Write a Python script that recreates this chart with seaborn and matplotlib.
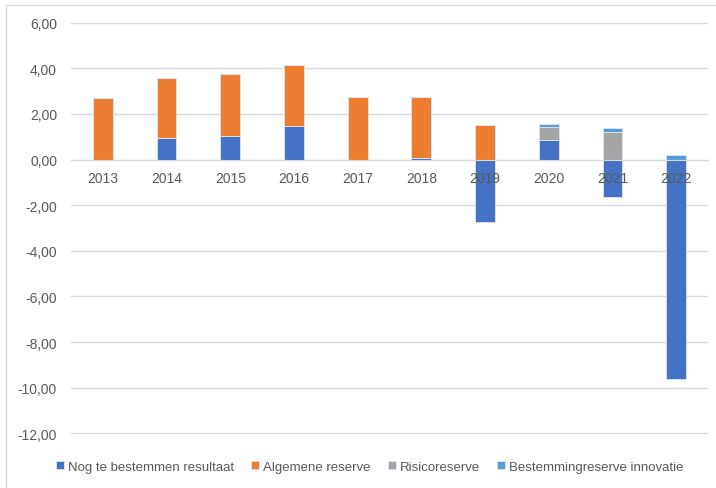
import numpy as np
import pandas as pd
import seaborn as sns
import matplotlib.pyplot as plt
from matplotlib.patches import Rectangle
from matplotlib.transforms import offset_copy

# values
years = ['2013', '2014', '2015', '2016', '2017', '2018', '2019', '2020', '2021', '2022']
nog_te_bestemmen = [0.00, 0.93, 1.03, 1.45, 0.00, 0.05, -2.75, 0.85, -1.65, -9.62]
algemene_reserve = [2.69, 2.66, 2.70, 2.69, 2.73, 2.68, 1.51, 0.00, 0.00, 0.00]
risicoreserve = [0.00, 0.00, 0.00, 0.00, 0.00, 0.00, 0.00, 0.57, 1.21, 0.00]
bestemming_innovatie = [0.00, 0.00, 0.00, 0.00, 0.00, 0.00, 0.00, 0.16, 0.17, 0.20]

series = {
    'Nog te bestemmen resultaat': nog_te_bestemmen,
    'Algemene reserve': algemene_reserve,
    'Risicoreserve': risicoreserve,
    'Bestemmingreserve innovatie': bestemming_innovatie,
}
colors = ['#4472C4', '#ED7D31', '#A5A5A5', '#5B9BD5']
text_col = '#595959'

sns.set_style('white')
plt.rcParams['font.family'] = ['Liberation Sans', 'DejaVu Sans']

fig = plt.figure(figsize=(7.16, 4.89), dpi=100)
ax = fig.add_axes([71 / 716, 1 - 435 / 489, 637 / 716, 412 / 489])

# stack positives on positives and negatives on negatives, like Excel
pos_base = np.zeros(len(years))
neg_base = np.zeros(len(years))
for (name, vals), col in zip(series.items(), colors):
    vals = np.array(vals)
    bottom = np.where(vals >= 0, pos_base, neg_base)
    sns.barplot(x=years, y=vals, bottom=bottom, color=col, saturation=1, width=0.31,
                edgecolor='#dce6f4', linewidth=0.6, label=name, ax=ax)
    pos_base += np.clip(vals, 0, None)
    neg_base += np.clip(vals, None, 0)

ax.set_ylim(-12.03, 6.03)
ax.set_yticks(np.arange(-12, 7, 2))
ax.set_yticklabels([f'{v:.2f}'.replace('.', ',') for v in np.arange(-12, 7, 2)])
ax.yaxis.grid(True, color='#d9d9d9', linewidth=1)
ax.set_axisbelow(True)
for s in ['top', 'right', 'left']:
    ax.spines[s].set_visible(False)
ax.spines['bottom'].set_position(('data', 0))
ax.spines['bottom'].set_color('#d9d9d9')
ax.tick_params(axis='both', length=0, colors=text_col, labelsize=10)
ax.tick_params(axis='y', pad=10)
ax.set_xticklabels([])
ax.set_xlabel('')
ax.set_ylabel('')

# category labels sit next to the zero line, drawn over the bars
lab_trans = offset_copy(ax.transData, fig=fig, x=0, y=-13, units='points')
for i, yr in enumerate(years):
    ax.text(i, 0, yr, transform=lab_trans, ha='center', va='center',
            fontsize=10, color=text_col, zorder=10)

ax.legend(loc='lower center', bbox_to_anchor=(0.469, -0.123), ncol=4, frameon=False,
          fontsize=9.5, labelcolor=text_col, handlelength=0.6, handleheight=0.6,
          handletextpad=0.3, columnspacing=1.3)

# chart frame
fig.patches.append(Rectangle((6 / 716, -0.05), 1.05, 1 - 6 / 489 + 0.05,
                             transform=fig.transFigure, fill=False,
                             edgecolor='#d9d9d9', linewidth=1))

fig.savefig('out.png', dpi=100)
